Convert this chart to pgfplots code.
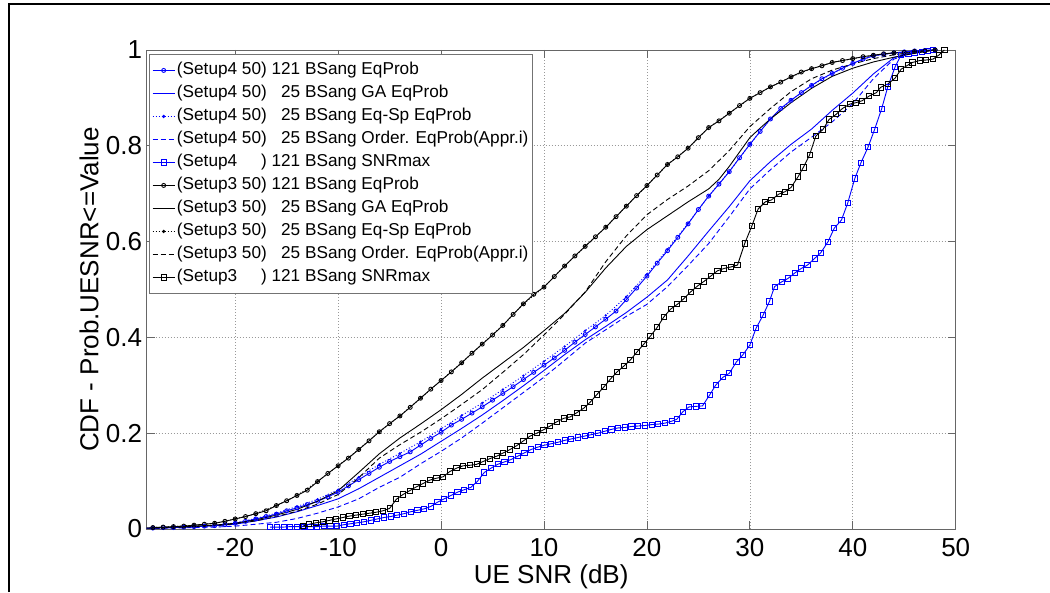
\documentclass[border=0pt]{standalone}
\usepackage{pgfplots}
\pgfplotsset{compat=1.18}
\usepackage{fontspec}
\setmainfont{Liberation Sans}
\begin{document}
\begin{tikzpicture}[x=1pt,y=1pt]
\useasboundingbox (0,0) rectangle (1050,592);
\draw[line width=2pt] (8.5,0) -- (8.5,588) -- (1050,588);
\begin{axis}[
  at={(146.7pt,63pt)}, anchor=south west,
  scale only axis, width=809pt, height=479pt,
  xmin=-28.6, xmax=50, ymin=0, ymax=1,
  xtick={-20,-10,0,10,20,30,40,50},
  xticklabels={-20,-10,0,10,20,30,40,50},
  ytick={0,0.2,0.4,0.6,0.8,1},
  yticklabels={0,0.2,0.4,0.6,0.8,1},
  ticklabel style={font=\fontsize{26}{30}\selectfont},
  xticklabel style={inner sep=0pt, yshift=-9pt},
  yticklabel style={anchor=east, inner sep=0pt, xshift=-4.5pt},
  tick align=inside, major tick length=8pt,
  every tick/.style={black!60, line width=0.8pt},
  axis line style={black!60, line width=0.9pt},
  grid=major,
  major grid style={black!40, line width=0.7pt, dash pattern=on 1pt off 2pt},
  xlabel={UE SNR (dB)},
  ylabel={CDF - Prob.UESNR<=Value},
  label style={font=\fontsize{26}{30}\selectfont},
  xlabel style={at={(axis description cs:0.5,-0.1)}, anchor=center},
  ylabel style={at={(axis description cs:-0.0713,0.5)}, anchor=center},
  legend style={at={(axis description cs:0.0028,0.9916)}, anchor=north west,
    draw=black!55, line width=0.8pt, fill=white,
    font=\fontsize{17.2}{20}\selectfont,
    inner xsep=2.5pt, inner ysep=4.5pt, row sep=0pt, column sep=0pt,
    nodes={inner xsep=1.5pt, inner ysep=3pt, text height=12.5pt, text depth=4.5pt}},
  legend cell align=left,
  legend image code/.code={\draw[mark repeat=2,mark phase=2,#1,line width=1.6pt] plot coordinates {(0pt,0pt) (11pt,0pt) (22pt,0pt)};},
  every axis plot/.append style={line width=0.9pt},
]
% 1 Setup4 121 EqProb
\addplot[color=blue, mark=o, mark size=2pt, mark options={solid,line width=0.9pt}] table {
x y
-28 0.002
-27 0.003
-26 0.003
-25 0.004
-24 0.005
-23 0.006
-22 0.007
-21 0.009
-20 0.012
-19 0.016
-18 0.021
-17 0.026
-16 0.031
-15 0.038
-14 0.044
-13 0.051
-12 0.058
-11 0.067
-10 0.077
-9 0.090
-8 0.103
-7 0.116
-6 0.129
-5 0.141
-4 0.151
-3 0.161
-2 0.175
-1 0.189
0 0.202
1 0.217
2 0.229
3 0.242
4 0.255
5 0.269
6 0.283
7 0.297
8 0.312
9 0.327
10 0.342
11 0.357
12 0.373
13 0.390
14 0.406
15 0.422
16 0.438
17 0.455
18 0.479
19 0.503
20 0.528
21 0.555
22 0.581
23 0.609
24 0.637
25 0.667
26 0.695
27 0.720
28 0.746
29 0.775
30 0.803
31 0.830
32 0.856
33 0.878
34 0.895
35 0.911
36 0.926
37 0.940
38 0.951
39 0.962
40 0.972
41 0.981
42 0.988
43 0.991
44 0.994
45 0.996
46 0.998
47 0.999
48 1.000
};
\addlegendentry{(Setup4 50) 121 BSang EqProb}
% 2 Setup4 25 GA
\addplot[color=blue, mark=none] table {
x y
-28.6 0.002
-26 0.003
-24 0.005
-22 0.007
-20 0.010
-18 0.017
-16 0.025
-14 0.036
-12 0.049
-10 0.063
-8 0.084
-6 0.108
-4 0.132
-2 0.156
0 0.183
2 0.210
4 0.238
6 0.268
8 0.299
10 0.331
12 0.364
14 0.395
16 0.423
18 0.452
20 0.484
22 0.520
24 0.570
26 0.622
28 0.673
30 0.727
32 0.767
34 0.803
36 0.835
38 0.874
40 0.910
42 0.950
44 0.984
46 0.996
47.5 1.000
};
\addlegendentry{(Setup4 50) \phantom{1}25 BSang GA EqProb}
% 3 Setup4 25 Eq-Sp
\addplot[color=blue, dash pattern=on 1pt off 2pt, mark=*, mark size=0.7pt, mark options={solid}] table {
x y
-28 0.002
-26 0.003
-24 0.005
-22 0.007
-20 0.013
-18 0.022
-16 0.033
-14 0.047
-12 0.062
-10 0.082
-8 0.108
-6 0.135
-4 0.158
-2 0.182
0 0.209
2 0.237
4 0.263
6 0.291
8 0.320
10 0.350
12 0.381
14 0.414
16 0.446
18 0.485
20 0.532
22 0.584
24 0.638
26 0.695
28 0.746
30 0.803
32 0.856
34 0.895
36 0.926
38 0.951
40 0.972
42 0.988
44 0.994
46 0.998
48 1.000
};
\addlegendentry{(Setup4 50) \phantom{1}25 BSang Eq-Sp EqProb}
% 4 Setup4 25 Order
\addplot[color=blue, mark=none, dash pattern=on 5pt off 3pt] table {
x y
-28.6 0.001
-26 0.002
-24 0.003
-22 0.004
-20 0.006
-18 0.010
-16 0.014
-14 0.022
-12 0.033
-10 0.046
-8 0.063
-6 0.087
-4 0.108
-2 0.136
0 0.162
2 0.190
4 0.221
6 0.253
8 0.285
10 0.317
12 0.352
14 0.388
16 0.416
18 0.444
20 0.469
22 0.506
24 0.550
26 0.596
28 0.652
30 0.710
32 0.750
34 0.787
36 0.818
38 0.850
40 0.888
42 0.940
44 0.981
46 0.995
47.5 1.000
};
\addlegendentry{(Setup4 50) \phantom{1}25 BSang Order. EqProb(Appr.i)}
% 5 Setup4 SNRmax
\addplot[color=blue, mark=square, mark size=2.6pt, mark options={solid,line width=0.9pt}] table {
x y
-16.6 0.004
-15.95 0.004
-15.3 0.004
-14.65 0.005
-14.0 0.005
-13.35 0.005
-12.7 0.005
-12.05 0.005
-11.4 0.006
-10.75 0.006
-10.1 0.006
-9.45 0.009
-8.8 0.011
-8.15 0.013
-7.5 0.015
-6.85 0.018
-6.2 0.021
-5.55 0.024
-4.9 0.026
-4.25 0.029
-3.6 0.032
-2.95 0.036
-2.3 0.039
-1.65 0.042
-1.0 0.047
-0.35 0.056
0.3 0.063
0.95 0.070
1.6 0.077
2.25 0.082
2.9 0.087
3.55 0.100
4.2 0.118
4.85 0.127
5.5 0.135
6.15 0.140
6.8 0.145
7.45 0.152
8.1 0.159
8.75 0.166
9.4 0.171
10.05 0.175
10.7 0.178
11.35 0.181
12.0 0.185
12.65 0.188
13.3 0.191
13.95 0.194
14.6 0.197
15.25 0.200
15.9 0.204
16.55 0.208
17.2 0.211
17.85 0.212
18.5 0.214
19.15 0.215
19.8 0.216
20.45 0.218
21.1 0.219
21.75 0.221
22.4 0.225
22.9 0.229
23.5 0.245
24.1 0.255
24.75 0.256
25.4 0.257
26.1 0.280
26.7 0.301
27.4 0.317
28.0 0.325
28.7 0.349
29.3 0.363
30.0 0.384
30.6 0.419
31.3 0.447
31.9 0.475
32.4 0.506
33.1 0.516
33.7 0.523
34.4 0.535
35.0 0.544
35.6 0.551
36.3 0.565
36.9 0.577
37.6 0.600
38.2 0.628
38.9 0.645
39.5 0.680
40.2 0.732
40.8 0.765
41.5 0.798
42.1 0.833
42.8 0.877
43.4 0.923
44.1 0.964
44.7 0.990
45.4 0.992
46.0 0.994
46.7 0.996
47.3 0.998
47.8 1.000
};
\addlegendentry{(Setup4\phantom{ 50}) 121 BSang SNRmax}
% 6 Setup3 121 EqProb
\addplot[color=black, mark=o, mark size=2pt, mark options={solid,line width=0.9pt}] table {
x y
-28 0.003
-27 0.004
-26 0.005
-25 0.006
-24 0.008
-23 0.010
-22 0.012
-21 0.016
-20 0.021
-19 0.026
-18 0.032
-17 0.038
-16 0.049
-15 0.059
-14 0.070
-13 0.081
-12 0.099
-11 0.116
-10 0.132
-9 0.148
-8 0.166
-7 0.184
-6 0.203
-5 0.220
-4 0.236
-3 0.254
-2 0.273
-1 0.292
0 0.310
1 0.328
2 0.347
3 0.367
4 0.386
5 0.405
6 0.425
7 0.448
8 0.470
9 0.490
10 0.505
11 0.527
12 0.549
13 0.570
14 0.590
15 0.610
16 0.630
17 0.652
18 0.674
19 0.696
20 0.717
21 0.739
22 0.761
23 0.777
24 0.795
25 0.817
26 0.838
27 0.852
28 0.868
29 0.884
30 0.899
31 0.911
32 0.923
33 0.933
34 0.944
35 0.954
36 0.961
37 0.967
38 0.974
39 0.978
40 0.982
41 0.986
42 0.989
43 0.992
44 0.994
45 0.995
46 0.997
47 0.998
48 1.000
};
\addlegendentry{(Setup3 50) 121 BSang EqProb}
% 7 Setup3 25 GA
\addplot[color=black, mark=none] table {
x y
-28.6 0.002
-26 0.004
-24 0.006
-22 0.008
-20 0.012
-18 0.019
-16 0.029
-14 0.041
-12 0.058
-10 0.080
-8 0.118
-6 0.157
-4 0.190
-2 0.219
0 0.249
2 0.281
4 0.315
6 0.347
8 0.379
10 0.414
12 0.450
14 0.494
16 0.545
18 0.590
20 0.625
22 0.654
24 0.683
26 0.710
27 0.730
28 0.757
29 0.787
30 0.817
31 0.837
32 0.856
34 0.890
36 0.920
38 0.945
40 0.962
42 0.975
44 0.985
46 0.993
48 1.000
};
\addlegendentry{(Setup3 50) \phantom{1}25 BSang GA EqProb}
% 8 Setup3 25 Eq-Sp
\addplot[color=black, dash pattern=on 1pt off 2pt, mark=*, mark size=0.7pt, mark options={solid}] table {
x y
-28 0.003
-26 0.005
-24 0.008
-22 0.012
-20 0.021
-18 0.032
-16 0.049
-14 0.070
-12 0.099
-10 0.132
-8 0.166
-6 0.203
-4 0.236
-2 0.273
0 0.310
2 0.347
4 0.386
6 0.425
8 0.470
10 0.505
12 0.549
14 0.590
16 0.630
18 0.674
20 0.717
22 0.761
24 0.795
26 0.838
28 0.868
30 0.899
32 0.923
34 0.944
36 0.961
38 0.974
40 0.982
42 0.989
44 0.994
46 0.997
48 1.000
};
\addlegendentry{(Setup3 50) \phantom{1}25 BSang Eq-Sp EqProb}
% 9 Setup3 25 Order
\addplot[color=black, mark=none, dash pattern=on 5pt off 3pt] table {
x y
-28.6 0.002
-26 0.003
-24 0.005
-22 0.007
-20 0.011
-18 0.017
-16 0.026
-14 0.037
-12 0.052
-10 0.072
-8 0.107
-6 0.148
-4 0.176
-2 0.202
0 0.230
2 0.260
4 0.291
6 0.327
8 0.364
10 0.405
12 0.448
14 0.495
16 0.558
18 0.612
20 0.656
22 0.688
24 0.716
26 0.748
28 0.790
30 0.840
32 0.878
34 0.913
36 0.940
38 0.958
40 0.971
42 0.982
44 0.990
46 0.996
48 1.000
};
\addlegendentry{(Setup3 50) \phantom{1}25 BSang Order. EqProb(Appr.i)}
% 10 Setup3 SNRmax
\addplot[color=black, mark=square, mark size=2.6pt, mark options={solid,line width=0.9pt}] table {
x y
-13.45 0.006
-12.8 0.010
-12.15 0.013
-11.5 0.015
-10.85 0.018
-10.2 0.021
-9.55 0.024
-8.9 0.027
-8.25 0.029
-7.6 0.031
-6.95 0.033
-6.3 0.035
-5.65 0.038
-5.0 0.043
-4.35 0.062
-3.7 0.072
-3.05 0.080
-2.4 0.088
-1.75 0.095
-1.1 0.102
-0.45 0.106
0.2 0.109
0.85 0.120
1.5 0.127
2.15 0.132
2.8 0.133
3.45 0.135
4.1 0.141
4.75 0.147
5.4 0.152
6.05 0.159
6.7 0.166
7.35 0.174
8.0 0.184
8.65 0.194
9.3 0.200
9.95 0.207
10.6 0.215
11.25 0.224
11.9 0.231
12.55 0.234
13.2 0.243
13.85 0.252
14.5 0.265
15.15 0.281
15.8 0.296
16.45 0.313
17.1 0.328
17.75 0.340
18.4 0.353
19.05 0.370
19.7 0.386
20.35 0.403
21.0 0.421
21.65 0.443
22.3 0.459
22.95 0.469
23.6 0.481
24.25 0.495
24.9 0.507
25.55 0.517
26.2 0.528
26.85 0.539
27.5 0.544
28.15 0.547
28.8 0.551
29.5 0.596
30.2 0.633
30.8 0.668
31.5 0.683
32.1 0.687
32.8 0.699
33.4 0.704
34.0 0.713
34.7 0.736
35.2 0.755
35.8 0.781
36.4 0.820
37.1 0.834
37.7 0.855
38.4 0.866
39.0 0.878
39.7 0.887
40.3 0.890
40.9 0.894
41.6 0.904
42.3 0.911
42.7 0.922
43.4 0.929
44.1 0.941
44.7 0.960
45.4 0.969
45.8 0.974
46.5 0.978
47.1 0.979
47.8 0.981
48.4 0.990
48.9 1.000
};
\addlegendentry{(Setup3\phantom{ 50}) 121 BSang SNRmax}
\end{axis}
\end{tikzpicture}
\end{document}
